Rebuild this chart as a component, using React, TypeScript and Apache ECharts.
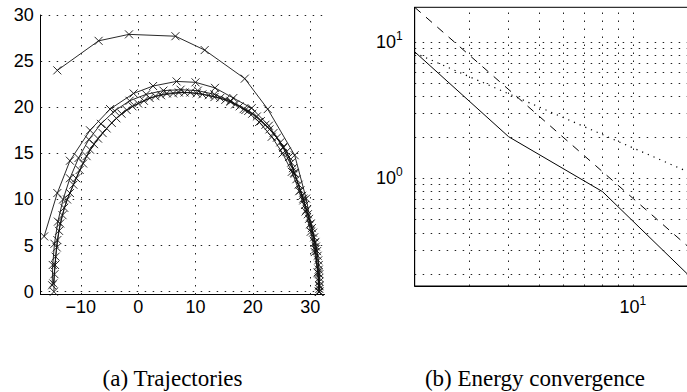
import React, { useEffect, useRef } from "react";
import * as echarts from "echarts";

// ---- (a) Trajectories: [x, y] points ----
const traj1: number[][] = [
  [-14.1, 24.0], [-6.9, 27.2], [-1.6, 27.9], [6.5, 27.7], [11.6, 26.2],
  [18.6, 23.1], [22.6, 19.8], [27.3, 14.8], [29.3, 10.1], [30.8, 5.3], [31.6, 0.6],
];
const traj2: number[][] = [
  [-16.4, 6.0], [-14.1, 10.7], [-11.9, 14.2], [-8.4, 17.5], [-4.9, 19.8],
  [-0.8, 21.5], [2.6, 22.3], [6.7, 22.8], [10.0, 22.7], [13.4, 22.1],
  [16.6, 21.0], [19.8, 19.9], [22.8, 18.0], [25.3, 15.6], [27.2, 12.9],
  [28.8, 10.1], [30.0, 7.3], [30.9, 4.6], [31.4, 2.0], [31.6, 0.0],
];
const traj3: number[][] = [
  [-15.0, 0.7], [-14.9, 2.9], [-14.6, 5.2], [-14.0, 7.6], [-13.1, 10.0],
  [-11.9, 12.3], [-10.4, 14.5], [-8.6, 16.5], [-6.5, 18.2], [-4.1, 19.6],
  [-1.5, 20.7], [1.4, 21.4], [4.4, 21.8], [7.4, 21.9], [10.4, 21.8],
  [13.3, 21.4], [16.1, 20.7], [18.7, 19.7], [21.1, 18.4], [23.3, 16.8],
  [25.2, 15.0], [26.8, 13.0], [28.1, 10.9], [29.2, 8.7], [30.1, 6.5],
  [30.8, 4.3], [31.3, 2.1], [31.5, 0.0],
];
const traj4: number[][] = [
  [-14.7, 0.0], [-14.6, 1.9], [-14.4, 3.8], [-14.1, 5.6], [-13.6, 7.4],
  [-12.9, 9.1], [-11.9, 10.7], [-10.8, 12.3], [-9.6, 13.9], [-8.4, 15.4],
  [-7.0, 16.6], [-5.5, 17.7], [-3.8, 18.8], [-2.0, 19.7], [0.0, 20.4],
  [2.0, 21.0], [4.0, 21.3], [6.1, 21.5], [8.1, 21.6], [10.2, 21.5],
  [12.3, 21.3], [14.3, 21.0], [16.1, 20.6], [17.7, 20.1], [19.2, 19.6],
  [20.7, 19.0], [22.2, 18.1], [23.6, 17.2], [24.8, 16.2], [25.9, 15.2],
  [26.7, 14.0], [27.3, 12.8], [28.0, 11.6], [28.6, 10.4], [29.1, 9.4],
  [29.6, 8.4], [30.1, 7.4], [30.5, 6.4], [30.9, 5.4], [31.2, 4.4],
  [31.4, 3.4], [31.5, 2.4], [31.6, 1.5], [31.6, 0.7], [31.6, 0.0],
];
const traj5: number[][] = [
  [-14.8, 0.9], [-14.5, 2.9], [-14.2, 4.8], [-13.8, 6.6], [-13.2, 8.3],
  [-12.4, 10.0], [-11.3, 11.6], [-10.2, 13.2], [-9.0, 14.7], [-7.7, 16.0],
  [-6.2, 17.2], [-4.6, 18.3], [-2.9, 19.3], [-1.0, 20.1], [1.0, 20.7],
  [3.0, 21.2], [5.0, 21.5], [7.1, 21.6], [9.1, 21.6], [11.2, 21.4],
  [13.3, 21.1], [15.2, 20.8], [16.9, 20.3], [18.4, 19.8], [19.9, 19.3],
  [21.4, 18.5], [22.9, 17.6], [24.2, 16.7], [25.3, 15.7], [26.3, 14.6],
  [27.0, 13.4], [27.6, 12.2], [28.3, 11.0], [28.8, 9.9], [29.4, 8.9],
  [29.8, 7.9], [30.3, 6.9], [30.7, 5.9], [31.0, 4.9], [31.3, 3.9],
  [31.5, 2.9], [31.6, 1.9], [31.6, 1.1], [31.6, 0.3],
];
const leftXGrid = [-10, 0, 10, 20, 30];
const leftYGrid = [0, 5, 10, 15, 20, 25, 30];

// ---- (b) Energy convergence (log-log) ----
const solidLine: number[][] = [[2, 8.45], [4, 2.02], [8, 0.8], [16, 0.172]];
const dashedLine: number[][] = [[2, 17.9], [16, 0.28]];
const dottedLine: number[][] = [[2, 8.3], [16, 1.05]];
const rightXGrid = [3, 4, 5, 6, 7, 8, 9, 10];
const rightYGrid = [0.2, 0.3, 0.4, 0.5, 0.6, 0.7, 0.8, 0.9, 1, 2, 3, 4, 5, 6, 7, 8, 9, 10];

const captions = ["(a) Trajectories", "(b) Energy convergence"];

const SANS = '"Liberation Sans", Arial, sans-serif';
const SERIF = '"Liberation Serif", "Times New Roman", serif';
const CROSS = "path://M0 0L10 10M10 0L0 10";
const GRID_STYLE = { color: "#222", width: 1, type: [1.5, 6.5] as any };

function gridMarkLine(xs: number[], ys: number[]) {
  return {
    silent: true,
    symbol: "none",
    animation: false,
    label: { show: false },
    emphasis: { disabled: true },
    lineStyle: GRID_STYLE,
    data: [...xs.map((v) => ({ xAxis: v })), ...ys.map((v) => ({ yAxis: v }))],
  };
}

function trajSeries(data: number[][], withGrid = false) {
  const s: any = {
    type: "line",
    xAxisIndex: 0,
    yAxisIndex: 0,
    data,
    symbol: CROSS,
    symbolSize: 8,
    showSymbol: true,
    lineStyle: { color: "#111", width: 0.9 },
    itemStyle: { color: "none", borderColor: "#111", borderWidth: 0.9 },
    emphasis: { disabled: true },
    z: 3,
  };
  if (withGrid) s.markLine = gridMarkLine(leftXGrid, leftYGrid);
  return s;
}

const logLabel = (v: number) => {
  const l = Math.log10(v);
  const e = Math.round(l);
  if (Math.abs(l - e) > 1e-6) return "";
  return `{b|10}{s|${e}}`;
};
const logRich = {
  b: { fontSize: 18, fontFamily: SANS, color: "#000", lineHeight: 24 },
  s: { fontSize: 12, fontFamily: SANS, color: "#000", verticalAlign: "top" },
};

export default function App() {
  const ref = useRef<HTMLDivElement>(null);
  useEffect(() => {
    document.body.style.margin = "0";
    if (!ref.current) return;
    const chart = echarts.init(ref.current, undefined, { renderer: "svg" });
    chart.setOption({
      animation: false,
      backgroundColor: "#fff",
      grid: [
        { left: 40.7, top: 15, width: 283.8, height: 279.5, show: false, outerBoundsMode: "none", containLabel: false },
        {
          left: 414.7, top: 7.3, width: 312, height: 278.7,
          show: true, borderColor: "#000", borderWidth: 1, backgroundColor: "transparent",
          outerBoundsMode: "none", containLabel: false,
        },
      ],
      xAxis: [
        {
          type: "value", gridIndex: 0, min: -17, max: 32.5,
          axisLine: { show: true, onZero: false, lineStyle: { color: "#000", width: 1 } },
          axisTick: { show: false },
          splitLine: { show: false },
          axisLabel: {
            margin: 3, fontSize: 18, fontFamily: SANS, color: "#000",
            formatter: (v: number) => (Math.abs(v % 10) < 1e-6 ? String(v).replace("-", "\u2212") : ""),
          },
        },
        {
          type: "log", gridIndex: 1, min: 2, max: 20, logBase: 10,
          axisLine: { show: true, onZero: false, lineStyle: { color: "#000", width: 1 } },
          axisTick: { show: false },
          splitLine: { show: false },
          minorSplitLine: { show: false },
          axisLabel: { margin: 9, formatter: logLabel, rich: logRich },
        },
      ],
      yAxis: [
        {
          type: "value", gridIndex: 0, min: -0.3, max: 30,
          axisLine: { show: true, onZero: false, lineStyle: { color: "#000", width: 1 } },
          axisTick: { show: false },
          splitLine: { show: false },
          axisLabel: {
            margin: 7, fontSize: 18, fontFamily: SANS, color: "#000",
            formatter: (v: number) => (Math.abs(v % 5) < 1e-6 ? String(v) : ""),
          },
        },
        {
          type: "log", gridIndex: 1, min: 0.163, max: 17.9, logBase: 10,
          axisLine: { show: true, onZero: false, lineStyle: { color: "#000", width: 1 } },
          axisTick: { show: false },
          splitLine: { show: false },
          minorSplitLine: { show: false },
          axisLabel: { margin: 12, formatter: logLabel, rich: logRich },
        },
      ],
      series: [
        trajSeries(traj1, true),
        trajSeries(traj2),
        trajSeries(traj3),
        trajSeries(traj4),
        trajSeries(traj5),
        {
          type: "line", xAxisIndex: 1, yAxisIndex: 1, data: solidLine,
          showSymbol: false, symbol: "none",
          lineStyle: { color: "#000", width: 1 },
          emphasis: { disabled: true },
          markLine: gridMarkLine(rightXGrid, rightYGrid),
          z: 3,
        },
        {
          type: "line", xAxisIndex: 1, yAxisIndex: 1, data: dashedLine,
          showSymbol: false, symbol: "none",
          lineStyle: { color: "#000", width: 1, type: [8, 7] },
          emphasis: { disabled: true },
          z: 3,
        },
        {
          type: "line", xAxisIndex: 1, yAxisIndex: 1, data: dottedLine,
          showSymbol: false, symbol: "none",
          lineStyle: { color: "#000", width: 1.2, type: [1.2, 5] },
          emphasis: { disabled: true },
          z: 3,
        },
      ],
      graphic: [
        {
          type: "text", x: 172.5, y: 378,
          style: { text: captions[0], fill: "#000", font: `23px ${SERIF}`, align: "center", verticalAlign: "middle" },
        },
        {
          type: "text", x: 535, y: 378,
          style: { text: captions[1], fill: "#000", font: `23px ${SERIF}`, align: "center", verticalAlign: "middle" },
        },
      ],
    });
    return () => chart.dispose();
  }, []);
  return <div ref={ref} style={{ width: 687, height: 392 }} />;
}
